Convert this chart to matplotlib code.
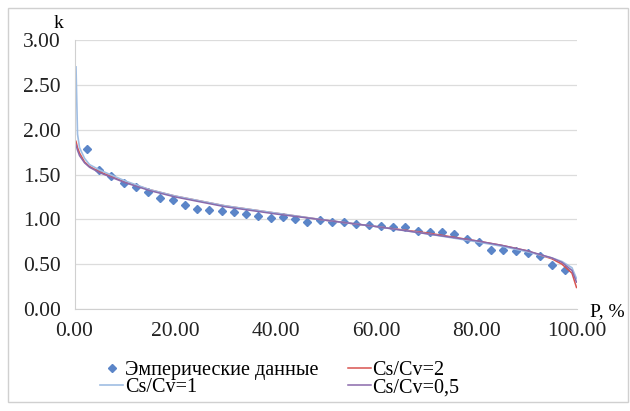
import matplotlib.pyplot as plt
from matplotlib.patches import Rectangle

# ------------------------------------------
# Data
# ------------------------------------------
emp_k = [1.78, 1.55, 1.48, 1.40, 1.36, 1.30, 1.24, 1.22, 1.16, 1.12,
         1.10, 1.09, 1.08, 1.06, 1.04, 1.02, 1.03, 1.00, 0.97, 0.99,
         0.97, 0.97, 0.95, 0.94, 0.93, 0.92, 0.92, 0.87, 0.86, 0.855,
         0.84, 0.78, 0.75, 0.66, 0.66, 0.65, 0.62, 0.59, 0.49, 0.43]
emp_p = [100.0 * i / (len(emp_k) + 1) for i in range(1, len(emp_k) + 1)]

curve_p = [0.3, 0.6, 1, 2, 3, 5, 10, 15, 20, 30, 40, 50, 60, 70,
           80, 85, 90, 95, 97, 99, 99.9]
k_cs2 = [1.87, 1.80, 1.74, 1.64, 1.59, 1.53, 1.42, 1.33, 1.26, 1.15,
         1.07, 0.99, 0.92, 0.85, 0.76, 0.71, 0.65, 0.56, 0.50, 0.40, 0.24]
k_cs1 = [2.70, 1.95, 1.80, 1.68, 1.61, 1.55, 1.43, 1.33, 1.26, 1.15,
         1.07, 0.99, 0.92, 0.84, 0.75, 0.70, 0.64, 0.57, 0.53, 0.46, 0.34]
k_cs05 = [1.83, 1.77, 1.71, 1.63, 1.58, 1.52, 1.41, 1.32, 1.25, 1.14,
          1.06, 0.99, 0.92, 0.84, 0.76, 0.71, 0.65, 0.57, 0.52, 0.43, 0.30]

x_ticks = [0, 20, 40, 60, 80, 100]
y_ticks = [0, 0.5, 1.0, 1.5, 2.0, 2.5, 3.0]

plt.rcParams['font.family'] = ['Liberation Serif', 'DejaVu Serif']

fig = plt.figure(figsize=(6.3, 4.11), dpi=100)
fig.patches.append(Rectangle((8 / 630, 9 / 411), 620 / 630, 394 / 411,
                             transform=fig.transFigure, fill=False,
                             edgecolor='#d0d0d0', linewidth=1.0))

ax = fig.add_axes([74.5 / 630, 1 - 309 / 411, (577 - 74.5) / 630, (309 - 40) / 411])

emp, = ax.plot(emp_p, emp_k, linestyle='none', marker='D', markersize=4.3,
               color='#5b85c8', label='Эмперические данные')
l2, = ax.plot(curve_p, k_cs2, color='#d9534f', linewidth=1.1, label='Cs/Cv=2')
l1, = ax.plot(curve_p, k_cs1, color='#9fbde3', linewidth=1.2, label='Cs/Cv=1')
l05, = ax.plot(curve_p, k_cs05, color='#8a6aab', linewidth=1.1, label='Cs/Cv=0,5')

ax.set_xlim(0, 100)
ax.set_ylim(0, 3)
ax.set_xticks(x_ticks)
ax.set_xticklabels(['%.2f' % v for v in x_ticks])
ax.set_yticks(y_ticks)
ax.set_yticklabels(['%.2f' % v for v in y_ticks])
ax.tick_params(length=0, labelsize=15.5, colors='#222222', pad=10)
ax.tick_params(axis='x', pad=9)

ax.grid(axis='y', color='#dcdcdc', linewidth=0.9)
ax.set_axisbelow(True)
for s in ['top', 'right']:
    ax.spines[s].set_visible(False)
for s in ['left', 'bottom']:
    ax.spines[s].set_color('#d0d0d0')

fig.text(59 / 630, 1 - 24 / 411, 'k', fontsize=14, ha='center', va='center')
fig.text(590 / 630, 1 - 312 / 411, 'P, %', fontsize=14, ha='left', va='center')

fig.legend([emp, l1, l2, l05],
           ['Эмперические данные', 'Cs/Cv=1', 'Cs/Cv=2', 'Cs/Cv=0,5'],
           ncol=2, loc='center', bbox_to_anchor=(280 / 630, 1 - 379 / 411),
           frameon=False, fontsize=14.5, handlelength=1.1, handletextpad=0.1,
           columnspacing=1.5, labelspacing=-0.1, borderpad=0)

plt.savefig('out.png', dpi=100)
